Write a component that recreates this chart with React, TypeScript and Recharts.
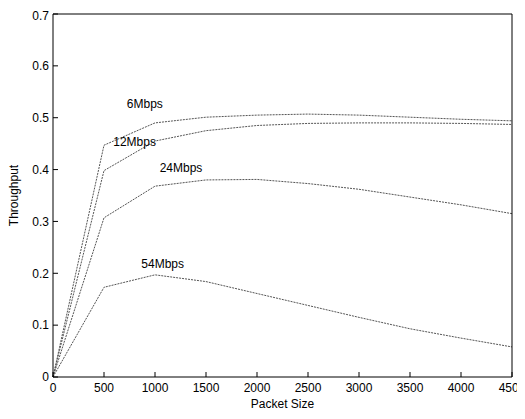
import { LineChart, Line, XAxis, YAxis, ReferenceDot } from "recharts";

const packetSizes = [0, 500, 1000, 1500, 2000, 2500, 3000, 3500, 4000, 4500];
const rate6   = [0, 0.447, 0.49, 0.501, 0.505, 0.507, 0.505, 0.501, 0.497, 0.494];
const rate12  = [0, 0.398, 0.455, 0.475, 0.485, 0.489, 0.49, 0.49, 0.489, 0.487];
const rate24  = [0, 0.307, 0.368, 0.38, 0.381, 0.373, 0.362, 0.347, 0.332, 0.315];
const rate54  = [0, 0.173, 0.197, 0.184, 0.161, 0.138, 0.115, 0.093, 0.075, 0.058];

const seriesNames = ["6Mbps", "12Mbps", "24Mbps", "54Mbps"];
const labelX = [900, 800, 1255, 1075];
const labelY = [0.527, 0.454, 0.404, 0.219];

const xTicks = [0, 500, 1000, 1500, 2000, 2500, 3000, 3500, 4000, 4500];
const yTicks = [0, 0.1, 0.2, 0.3, 0.4, 0.5, 0.6, 0.7];

const data = packetSizes.map((x, i) => ({
  x,
  r6: rate6[i],
  r12: rate12[i],
  r24: rate24[i],
  r54: rate54[i],
}));

const keys = ["r6", "r12", "r24", "r54"];
const FONT = "Liberation Sans, Arial, sans-serif";
const font = { fontFamily: FONT, fontSize: 12, fill: "#000" };

function YTitle({ viewBox }: any) {
  const x = viewBox.x + 6;
  const y = viewBox.y + viewBox.height / 2;
  return (
    <text x={x} y={y} transform={`rotate(-90, ${x}, ${y})`} textAnchor="middle"
      dominantBaseline="central" fontFamily={FONT} fontSize={12} fill="#000">
      Throughput
    </text>
  );
}

function XTitle({ viewBox }: any) {
  const x = viewBox.x + viewBox.width / 2;
  const y = viewBox.y + viewBox.height - 7;
  return (
    <text x={x} y={y} textAnchor="middle" dominantBaseline="central"
      fontFamily={FONT} fontSize={12} fill="#000">
      Packet Size
    </text>
  );
}

export default function App() {
  return (
    <LineChart
      width={517}
      height={403}
      data={data}
      margin={{ top: 5, right: 12, left: 0, bottom: 0 }}
      style={{ fontFamily: FONT, overflow: "visible" }}
    >
      <XAxis
        dataKey="x"
        type="number"
        domain={[0, 4500]}
        ticks={xTicks}
        interval={0}
        height={34}
        stroke="#000"
        tickSize={-5}
        tickMargin={11}
        tick={font}
        label={<XTitle />}
      />
      <XAxis
        xAxisId="top"
        orientation="top"
        dataKey="x"
        type="number"
        domain={[0, 4500]}
        ticks={xTicks}
        height={1}
        stroke="#000"
        tickSize={-5}
        tick={false}
      />
      <YAxis
        type="number"
        domain={[0, 0.7]}
        ticks={yTicks}
        width={45}
        stroke="#000"
        tickSize={-5}
        tickMargin={9}
        tick={font}
        label={<YTitle />}
      />
      <YAxis
        yAxisId="right"
        orientation="right"
        type="number"
        domain={[0, 0.7]}
        ticks={yTicks}
        width={1}
        stroke="#000"
        tickSize={-5}
        tick={false}
      />
      <Line
        xAxisId="top"
        yAxisId="right"
        dataKey="r6"
        stroke="none"
        dot={false}
        legendType="none"
        isAnimationActive={false}
      />
      {keys.map((k) => (
        <Line
          key={k}
          type="linear"
          dataKey={k}
          stroke="#555"
          strokeWidth={1}
          strokeDasharray="2 1"
          dot={false}
          isAnimationActive={false}
        />
      ))}
      {seriesNames.map((name, i) => (
        <ReferenceDot
          key={name}
          x={labelX[i]}
          y={labelY[i]}
          r={0}
          fill="none"
          stroke="none"
          label={{ value: name, position: "center", ...font }}
        />
      ))}
    </LineChart>
  );
}
